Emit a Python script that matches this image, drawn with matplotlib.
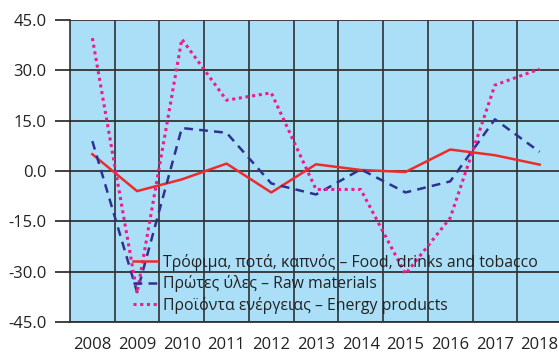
import matplotlib
matplotlib.use("Agg")
import matplotlib.pyplot as plt

years = ["2008", "2009", "2010", "2011", "2012", "2013", "2014", "2015", "2016", "2017", "2018"]
food = [5.0, -6.0, -2.5, 2.2, -6.4, 2.0, 0.3, -0.3, 6.4, 4.7, 1.9]
raw = [8.9, -36.1, 12.8, 11.4, -3.7, -7.0, 0.5, -6.4, -3.1, 15.4, 5.7]
energy = [39.6, -36.4, 39.3, 21.1, 23.3, -5.5, -5.5, -30.7, -14.0, 25.6, 30.4]
labels = [
    "Τρόφιμα, ποτά, καπνός – Food, drinks and tobacco",
    "Πρώτες ύλες – Raw materials",
    "Προϊόντα ενέργειας – Energy products",
]
yticks = [45, 30, 15, 0, -15, -30, -45]

plt.rcParams["font.family"] = ["Open Sans", "DejaVu Sans"]

W, H = 559, 353
fig = plt.figure(figsize=(W / 100, H / 100), dpi=100)
ax = fig.add_axes([70 / W, 31 / H, 492 / W, 302 / H])
ax.set_facecolor("#ABDFF7")

x = list(range(len(years)))
ax.plot(x, food, color="#EE2B2B", lw=1.8, label=labels[0], zorder=3)
ax.plot(x, raw, color="#2E3192", lw=1.8, ls=(0, (3.5, 2.5)), label=labels[1], zorder=3)
ax.plot(x, energy, color="#EC1C8C", lw=2.2, ls=(0, (1, 1.2)), label=labels[2], zorder=3)

ax.set_xlim(-0.5, len(years) - 0.5)
ax.set_ylim(-45, 45)
ax.set_yticks(yticks)
ax.set_yticklabels([f"{v:.1f}" for v in yticks])
ax.set_xticks(x)
ax.set_xticklabels(years)

# category boundaries as vertical grid lines
for b in range(1, len(years)):
    ax.axvline(b - 0.5, color="#222222", lw=1.1, zorder=1)
for v in yticks:
    ax.axhline(v, color="#333333", lw=1.3, zorder=1)

for s in ["top", "right"]:
    ax.spines[s].set_visible(False)
ax.spines["left"].set_color("#222222")
ax.spines["left"].set_linewidth(1.1)
ax.spines["bottom"].set_color("#333333")
ax.spines["bottom"].set_linewidth(1.3)

ax.tick_params(axis="y", length=11, width=1.3, color="#333333", pad=6,
               labelsize=12, labelcolor="#222222")
ax.tick_params(axis="x", length=0, pad=11, labelsize=12, labelcolor="#222222")

leg = ax.legend(loc="lower left", bbox_to_anchor=(0.116, 0.006), frameon=False,
                fontsize=11.4, handlelength=1.5, handletextpad=0.38,
                labelspacing=0.28, borderaxespad=0)
for t in leg.get_texts():
    t.set_color("#222222")

fig.savefig("out.png", dpi=100)
